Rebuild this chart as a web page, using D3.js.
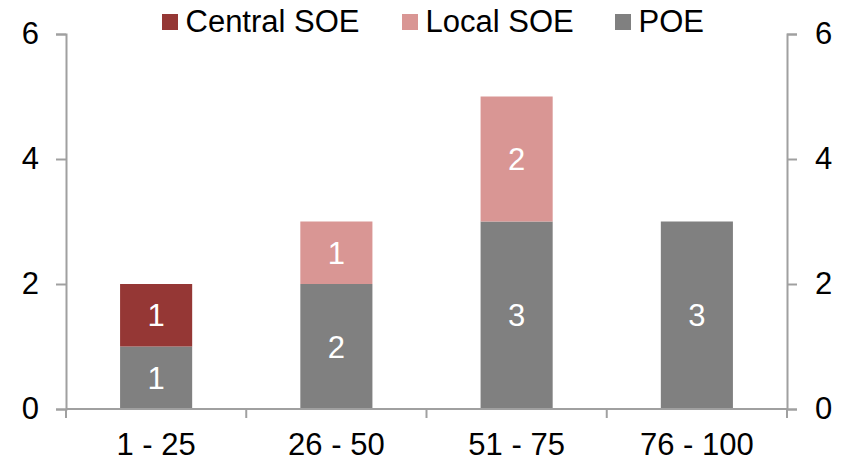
<!DOCTYPE html>
<html>
<head>
<meta charset="utf-8">
<script src="https://cdn.jsdelivr.net/npm/d3@7"></script>
<style>
  html, body { margin: 0; padding: 0; background: #fff; }
  svg { display: block; }
  text { font-family: "Liberation Sans", Arial, sans-serif; }
</style>
</head>
<body>
<svg id="chart" width="844" height="462"></svg>
<script>
// Rank buckets on the x axis
const categories = ["1 - 25", "26 - 50", "51 - 75", "76 - 100"];
// Number of companies per ownership type in each bucket
const poe = [1, 2, 3, 3];
const localSOE = [0, 1, 2, 0];
const centralSOE = [1, 0, 0, 0];
const seriesNames = ["Central SOE", "Local SOE", "POE"];
const yTicks = [0, 2, 4, 6];

const colors = { "Central SOE": "#953735", "Local SOE": "#d99694", "POE": "#808080" };
const axisColor = "#a0a0a0";
const fontSize = 31;

const W = 844, H = 462;
const margin = { top: 34, right: 57, bottom: 53, left: 66 };
const svg = d3.select("#chart");

const rows = categories.map((c, i) => ({
  cat: c, "POE": poe[i], "Local SOE": localSOE[i], "Central SOE": centralSOE[i]
}));
// stacked bottom-up: POE, Local SOE, Central SOE
const stack = d3.stack().keys(["POE", "Local SOE", "Central SOE"]);
const layers = stack(rows);

const x = d3.scaleBand().domain(categories)
  .range([margin.left, W - margin.right]).paddingInner(0).paddingOuter(0);
const y = d3.scaleLinear().domain([0, 6]).range([H - margin.bottom, margin.top]);
const barW = x.bandwidth() * 0.4;

// bars
const g = svg.append("g");
layers.forEach(layer => {
  const key = layer.key;
  layer.forEach((d, i) => {
    const v = d[1] - d[0];
    if (v <= 0) return;
    const cx = x(categories[i]) + x.bandwidth() / 2;
    g.append("rect")
      .attr("x", cx - barW / 2)
      .attr("y", y(d[1]))
      .attr("width", barW)
      .attr("height", y(d[0]) - y(d[1]))
      .attr("fill", colors[key]);
    g.append("text")
      .attr("x", cx)
      .attr("y", (y(d[0]) + y(d[1])) / 2)
      .attr("dy", "0.36em")
      .attr("text-anchor", "middle")
      .attr("font-size", fontSize)
      .attr("fill", "#fff")
      .text(v);
  });
});

// left axis
const leftAxis = d3.axisLeft(y).tickValues(yTicks).tickSize(10).tickPadding(17).tickFormat(d3.format("d"));
const la = svg.append("g").attr("transform", `translate(${margin.left},0)`).call(leftAxis);
// right axis
const rightAxis = d3.axisRight(y).tickValues(yTicks).tickSize(10).tickPadding(18).tickFormat(d3.format("d"));
const ra = svg.append("g").attr("transform", `translate(${W - margin.right},0)`).call(rightAxis);

[la, ra].forEach(a => {
  a.select(".domain").attr("stroke", axisColor).attr("stroke-width", 2);
  a.selectAll(".tick line").attr("stroke", axisColor).attr("stroke-width", 2);
  a.selectAll(".tick text").attr("font-size", fontSize).attr("fill", "#000")
    .attr("font-family", "Liberation Sans, Arial, sans-serif");
});

// bottom axis: ticks sit on category boundaries, labels centered in each band
const x0 = y(0);
const xa = svg.append("g");
xa.append("line")
  .attr("x1", margin.left).attr("x2", W - margin.right)
  .attr("y1", x0).attr("y2", x0)
  .attr("stroke", axisColor).attr("stroke-width", 2);
const bounds = categories.map(c => x(c)).concat([x(categories[categories.length - 1]) + x.bandwidth()]);
xa.selectAll("line.tb").data(bounds).join("line")
  .attr("class", "tb")
  .attr("x1", d => d).attr("x2", d => d)
  .attr("y1", x0).attr("y2", x0 + 9)
  .attr("stroke", axisColor).attr("stroke-width", 2);
xa.selectAll("text").data(categories).join("text")
  .attr("x", d => x(d) + x.bandwidth() / 2)
  .attr("y", x0 + 46)
  .attr("text-anchor", "middle")
  .attr("font-size", fontSize)
  .attr("fill", "#000")
  .text(d => d);

// legend
const legendX = [162, 402, 615];
const lg = svg.append("g");
seriesNames.forEach((name, i) => {
  lg.append("rect").attr("x", legendX[i]).attr("y", 14).attr("width", 16).attr("height", 16)
    .attr("fill", colors[name]);
  lg.append("text").attr("x", legendX[i] + 23.5).attr("y", 32)
    .attr("font-size", fontSize).attr("fill", "#000").text(name);
});
</script>
</body>
</html>
